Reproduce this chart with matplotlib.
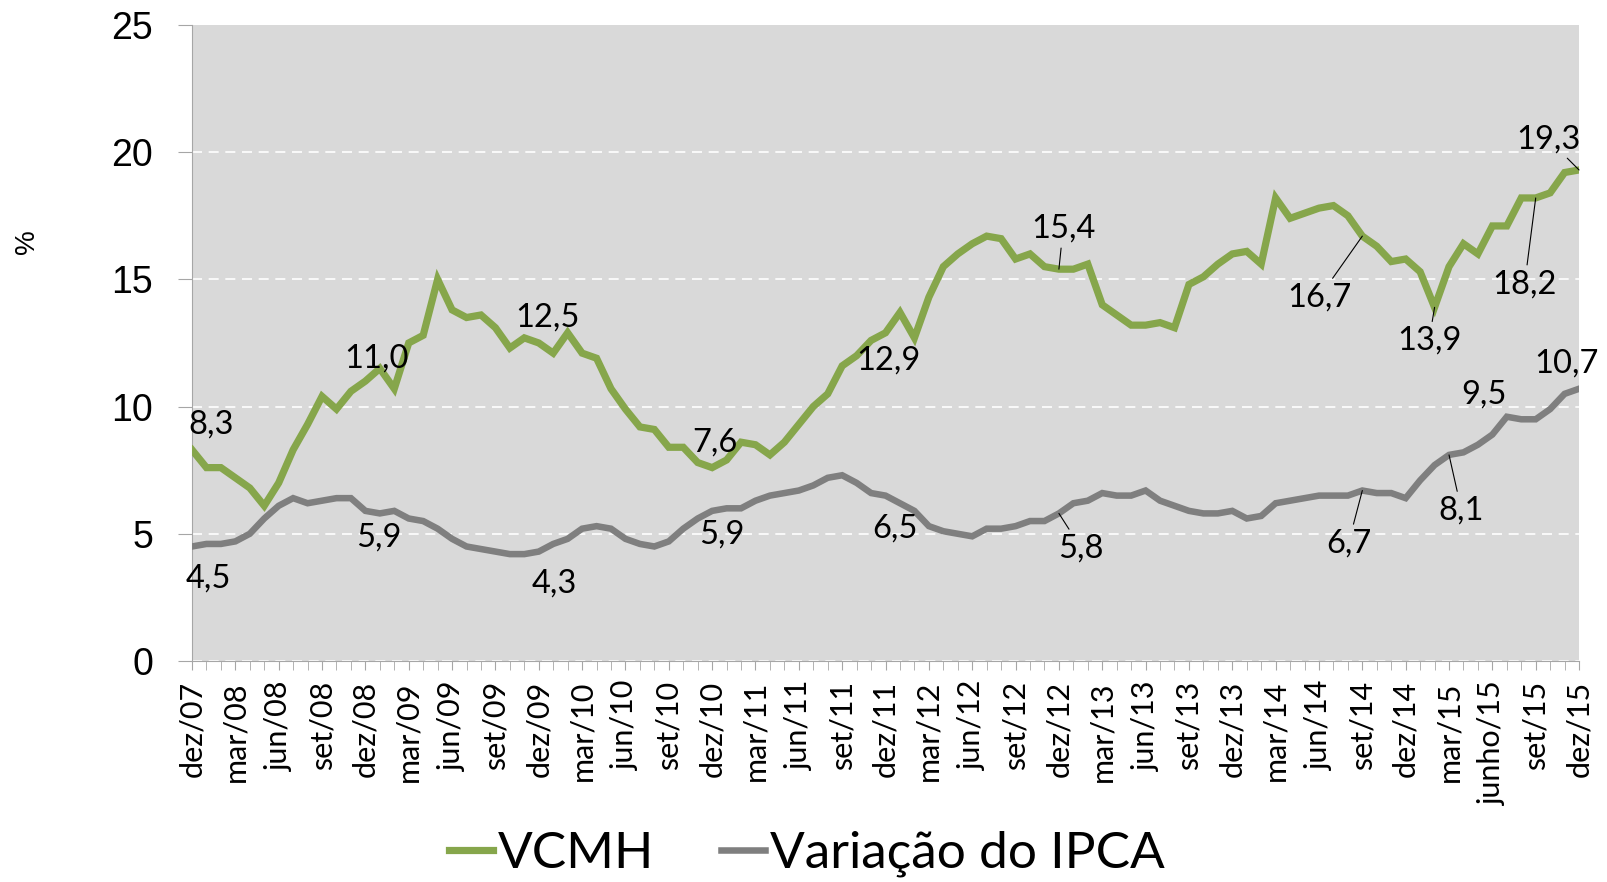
import numpy as np
import matplotlib
matplotlib.use("Agg")
import matplotlib.pyplot as plt

# Séries mensais de dez/07 a dez/15 (% acumulado em 12 meses)
vcmh = [8.3, 7.6, 7.6, 7.2, 6.8, 6.1, 7.0, 8.3, 9.3, 10.4,
        9.9, 10.6, 11.0, 11.5, 10.7, 12.5, 12.8, 15.0, 13.8, 13.5,
        13.6, 13.1, 12.3, 12.7, 12.5, 12.1, 12.9, 12.1, 11.9, 10.7,
        9.9, 9.2, 9.1, 8.4, 8.4, 7.8, 7.6, 7.9, 8.6, 8.5,
        8.1, 8.6, 9.3, 10.0, 10.5, 11.6, 12.0, 12.6, 12.9, 13.7,
        12.7, 14.3, 15.5, 16.0, 16.4, 16.7, 16.6, 15.8, 16.0, 15.5,
        15.4, 15.4, 15.6, 14.0, 13.6, 13.2, 13.2, 13.3, 13.1, 14.8,
        15.1, 15.6, 16.0, 16.1, 15.6, 18.2, 17.4, 17.6, 17.8, 17.9,
        17.5, 16.7, 16.3, 15.7, 15.8, 15.3, 13.9, 15.5, 16.4, 16.0,
        17.1, 17.1, 18.2, 18.2, 18.4, 19.2, 19.3]

ipca = [4.5, 4.6, 4.6, 4.7, 5.0, 5.6, 6.1, 6.4, 6.2, 6.3,
        6.4, 6.4, 5.9, 5.8, 5.9, 5.6, 5.5, 5.2, 4.8, 4.5,
        4.4, 4.3, 4.2, 4.2, 4.3, 4.6, 4.8, 5.2, 5.3, 5.2,
        4.8, 4.6, 4.5, 4.7, 5.2, 5.6, 5.9, 6.0, 6.0, 6.3,
        6.5, 6.6, 6.7, 6.9, 7.2, 7.3, 7.0, 6.6, 6.5, 6.2,
        5.9, 5.3, 5.1, 5.0, 4.9, 5.2, 5.2, 5.3, 5.5, 5.5,
        5.8, 6.2, 6.3, 6.6, 6.5, 6.5, 6.7, 6.3, 6.1, 5.9,
        5.8, 5.8, 5.9, 5.6, 5.7, 6.2, 6.3, 6.4, 6.5, 6.5,
        6.5, 6.7, 6.6, 6.6, 6.4, 7.1, 7.7, 8.1, 8.2, 8.5,
        8.9, 9.6, 9.5, 9.5, 9.9, 10.5, 10.7]

rotulos_x = ['dez/07', 'mar/08', 'jun/08', 'set/08', 'dez/08', 'mar/09', 'jun/09',
             'set/09', 'dez/09', 'mar/10', 'jun/10', 'set/10', 'dez/10', 'mar/11',
             'jun/11', 'set/11', 'dez/11', 'mar/12', 'jun/12', 'set/12', 'dez/12',
             'mar/13', 'jun/13', 'set/13', 'dez/13', 'mar/14', 'jun/14', 'set/14',
             'dez/14', 'mar/15', 'junho/15', 'set/15', 'dez/15']

# Pontos rotulados: (índice do mês, deslocamento x, deslocamento y em pt, linha guia)
rotulos_vcmh = [(0, 14, 18, False), (12, 8, 16, False), (24, 6, 18, False),
                (36, 2, 18, False), (48, 2, -20, False), (60, 3, 29, True),
                (81, -31, -44, True), (86, -4, -24, True), (93, -8, -62, True),
                (96, -22, 22, True)]
rotulos_ipca = [(0, 12, -23, False), (12, 10, -19, False), (24, 11, -23, False),
                (36, 7, -17, False), (48, 7, -24, False), (60, 16, -25, True),
                (81, -10, -38, True), (87, 9, -40, True), (93, -37, 18, False),
                (96, -9, 18, False)]

cor_verde = '#86A64B'
cor_cinza = '#7F7F7F'
fonte_rotulo = ['Lato', 'DejaVu Sans']

meses = np.arange(len(vcmh))

fig = plt.figure(figsize=(16.08, 8.82), dpi=100)
ax = fig.add_axes([0.1194, 0.2506, 0.8626, 0.7211])
ax.set_facecolor('#D9D9D9')

l1, = ax.plot(meses, vcmh, color=cor_verde, lw=5.2, solid_joinstyle='miter', label='VCMH', zorder=3)
l2, = ax.plot(meses, ipca, color=cor_cinza, lw=4.7, solid_joinstyle='miter', label='Variação do IPCA', zorder=3)

ax.set_xlim(0, len(vcmh) - 1)
ax.set_ylim(0, 25)
ax.set_yticks([0, 5, 10, 15, 20, 25])
ax.yaxis.grid(True, color='white', linestyle=(0, (6, 4)), lw=1.2)
ax.yaxis.get_gridlines()[-1].set_visible(False)
ax.set_axisbelow(True)

ax.set_xticks(meses[::3])
ax.set_xticklabels(rotulos_x, rotation=90, fontsize=22, family=fonte_rotulo)
ax.set_xticks(meses, minor=True)
ax.tick_params(axis='x', which='both', length=6.5, color='#A6A6A6', pad=8)
ax.tick_params(axis='y', length=10, color='#A6A6A6', pad=18, labelsize=27)
for t in ax.get_yticklabels():
    t.set_family('Liberation Sans')

for lado in ['top', 'right']:
    ax.spines[lado].set_visible(False)
for lado in ['left', 'bottom']:
    ax.spines[lado].set_color('#A6A6A6')

def rotular(serie, rotulos):
    for i, dx, dy, guia in rotulos:
        texto = f"{serie[i]:.1f}".replace('.', ',')
        props = dict(arrowstyle='-', color='black', lw=0.8, shrinkA=1, shrinkB=0) if guia else None
        ax.annotate(texto, xy=(i, serie[i]), xytext=(dx, dy), textcoords='offset points',
                    ha='center', va='center', fontsize=23.5, family=fonte_rotulo,
                    arrowprops=props, zorder=4)

rotular(vcmh, rotulos_vcmh)
rotular(ipca, rotulos_ipca)

fig.text(0.0171, 0.726, '%', rotation=90, fontsize=20, family='Liberation Sans',
         ha='center', va='center')

fig.legend(handles=[l1, l2], loc='center', bbox_to_anchor=(0.502, 0.032), ncol=2,
           frameon=False, prop={'family': fonte_rotulo, 'size': 37},
           handlelength=0.85, handletextpad=0.1, columnspacing=1.3)

plt.savefig('out.png', dpi=100)
